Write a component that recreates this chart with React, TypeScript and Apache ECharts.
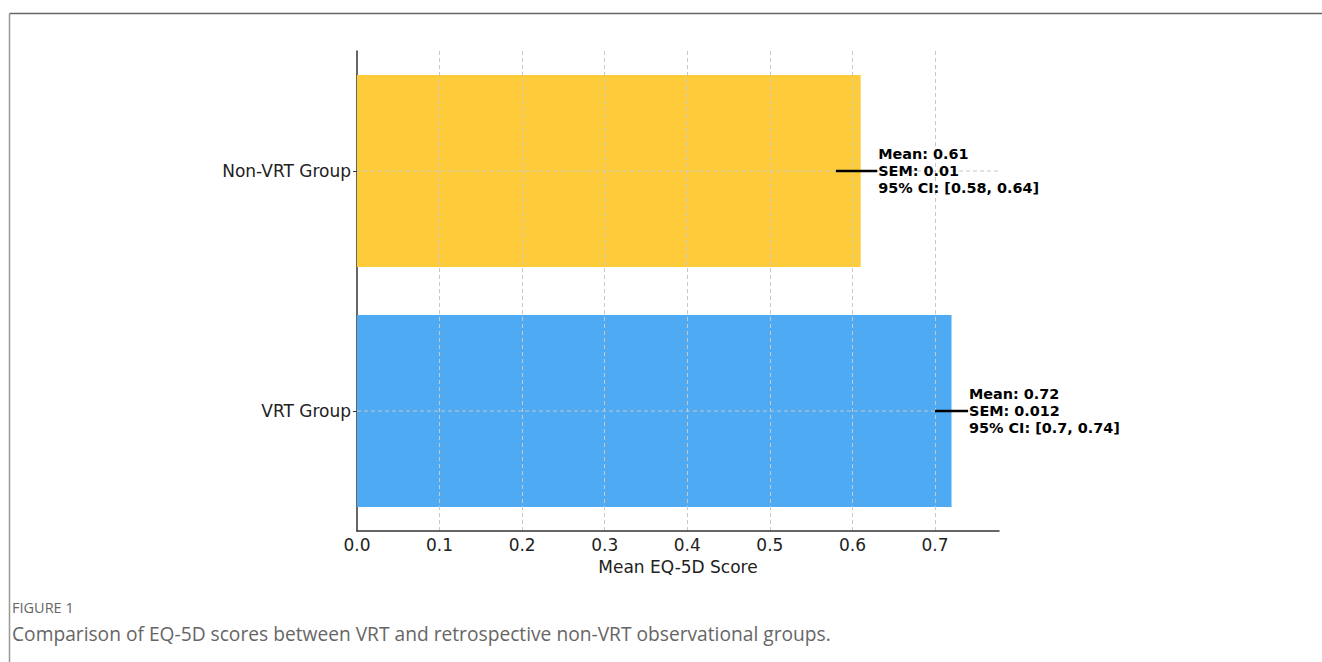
import React, { useEffect, useRef } from "react";
import * as echarts from "echarts";

const categories = ["VRT Group", "Non-VRT Group"];
const means = [0.72, 0.61];
const sems = [0.012, 0.01];
const ciLow = [0.7, 0.58];
const ciHigh = [0.74, 0.64];
const ciLabels = ["[0.7, 0.74]", "[0.58, 0.64]"];
const barColors = ["#4DAAF3", "#FECC3A"];
const xTicks = [0, 0.1, 0.2, 0.3, 0.4, 0.5, 0.6, 0.7];
const xMax = 0.7775;

export default function App() {
  const ref = useRef<HTMLDivElement>(null);
  useEffect(() => {
    if (!ref.current) return;
    const chart = echarts.init(ref.current, null, { renderer: "svg" });
    const font = "DejaVu Sans";
    chart.setOption({
      animation: false,
      backgroundColor: "#ffffff",
      grid: { left: 357, right: 323, top: 51, bottom: 131 },
      xAxis: {
        type: "value",
        min: 0,
        max: xMax,
        interval: 0.1,
        z: 5,
        name: "Mean EQ-5D Score",
        nameLocation: "middle",
        nameGap: 27,
        nameTextStyle: { fontFamily: font, fontSize: 17, color: "#222" },
        axisLine: { show: true, lineStyle: { color: "#333", width: 1.5 } },
        axisTick: { show: false },
        axisLabel: {
          fontFamily: font,
          fontSize: 17,
          color: "#222",
          margin: 5,
          showMaxLabel: false,
          formatter: (v: number) =>
            xTicks.some((t) => Math.abs(t - v) < 1e-6) ? v.toFixed(1) : "",
        },
        splitLine: {
          show: true,
          showMinLine: false,
          showMaxLine: false,
          lineStyle: { color: "#c8c8c8", type: [4, 3], width: 1 },
        },
      },
      yAxis: {
        type: "category",
        data: categories,
        axisLine: { show: true, lineStyle: { color: "#333", width: 1.5 } },
        axisTick: { show: true, alignWithLabel: true, length: 4, lineStyle: { color: "#333" } },
        axisLabel: { fontFamily: font, fontSize: 17, color: "#222", margin: 6 },
        splitLine: { show: false },
      },
      series: [
        {
          type: "bar",
          barWidth: "80%",
          data: means.map((m, i) => ({ value: m, itemStyle: { color: barColors[i] } })),
          z: 2,
        },
        {
          type: "custom",
          z: 10,
          data: categories.map((c, i) => [i, means[i], ciLow[i], ciHigh[i], sems[i]]),
          renderItem: (params: any, api: any) => {
            const idx = api.value(0);
            const mean = api.value(1);
            const lo = api.coord([api.value(2), idx]);
            const hi = api.coord([api.value(3), idx]);
            const g0 = api.coord([0, idx]);
            const g1 = api.coord([xMax, idx]);
            const tp = api.coord([mean + 0.02, idx]);
            const i = params.dataIndex;
            return {
              type: "group",
              children: [
                {
                  type: "line",
                  shape: { x1: g0[0], y1: g0[1], x2: g1[0], y2: g1[1] },
                  style: { stroke: "#c8c8c8", lineWidth: 1, lineDash: [4, 3] },
                },
                {
                  type: "line",
                  shape: { x1: lo[0], y1: lo[1], x2: Math.min(hi[0], tp[0]), y2: hi[1] },
                  style: { stroke: "#000", lineWidth: 2.5 },
                },
                {
                  type: "text",
                  x: tp[0] + 1,
                  y: tp[1],
                  style: {
                    text:
                      "Mean: " + means[i] + "\nSEM: " + sems[i] + "\n95% CI: " + ciLabels[i],
                    fontFamily: font,
                    fontWeight: "bold",
                    fontSize: 14.4,
                    lineHeight: 17,
                    fill: "#000",
                    verticalAlign: "middle",
                    align: "left",
                  },
                },
              ],
            };
          },
        },
      ],
      graphic: [
        {
          type: "line",
          shape: { x1: 9.5, y1: 13.5, x2: 1322, y2: 13.5 },
          style: { stroke: "#666", lineWidth: 1.5 },
        },
        {
          type: "line",
          shape: { x1: 9.5, y1: 13.5, x2: 9.5, y2: 662 },
          style: { stroke: "#999", lineWidth: 1.5 },
        },
        {
          type: "text",
          x: 12,
          y: 607,
          style: {
            text: "FIGURE 1",
            fontFamily: "Open Sans",
            fontSize: 14.5,
            fill: "#666",
            verticalAlign: "middle",
          },
        },
        {
          type: "text",
          x: 12,
          y: 633,
          style: {
            text: "Comparison of EQ-5D scores between VRT and retrospective non-VRT observational groups.",
            fontFamily: "Open Sans",
            fontSize: 19.2,
            fill: "#666",
            verticalAlign: "middle",
          },
        },
      ],
    });
    return () => chart.dispose();
  }, []);
  return (
    <div
      ref={ref}
      style={{ position: "absolute", left: 0, top: 0, width: 1322, height: 662 }}
    />
  );
}
